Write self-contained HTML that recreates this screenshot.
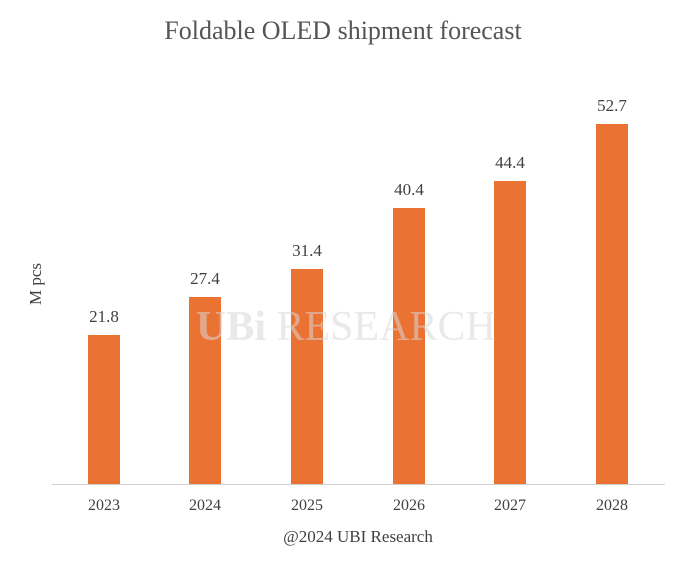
<!DOCTYPE html><html><head><style>
body{margin:0;width:686px;height:573px;background:#fff;overflow:hidden;font-family:"Liberation Serif",serif;color:#404040}
.a{position:absolute}
.bar{position:absolute;width:32px;background:#EA7232}
.v{position:absolute;width:80px;text-align:center;font-size:17px}
.y{position:absolute;width:80px;text-align:center;font-size:16px;top:497px}
</style></head><body>
<div class="a" style="left:0;width:686px;top:16px;text-align:center;font-size:26px;color:#555">Foldable OLED shipment forecast</div>
<div class="a" style="left:26px;top:305px;font-size:17px;transform:rotate(-90deg);transform-origin:left top;white-space:nowrap">M pcs</div>
<div class="a" style="left:52px;top:484px;width:613px;height:1px;background:#d0d0d0"></div>
<div class="bar" style="left:88px;top:335px;height:149px"></div>
<div class="bar" style="left:189px;top:297px;height:187px"></div>
<div class="bar" style="left:291px;top:269px;height:215px"></div>
<div class="bar" style="left:393px;top:208px;height:276px"></div>
<div class="bar" style="left:494px;top:181px;height:303px"></div>
<div class="bar" style="left:596px;top:124px;height:360px"></div>
<div class="a" style="left:196px;top:303px;font-size:42px;color:rgba(215,215,215,0.55);font-weight:bold;z-index:2">UBi <span style="font-weight:normal">RESEARCH</span></div>
<div class="v" style="left:64px;top:307px">21.8</div>
<div class="v" style="left:165px;top:269px">27.4</div>
<div class="v" style="left:267px;top:241px">31.4</div>
<div class="v" style="left:369px;top:180px">40.4</div>
<div class="v" style="left:470px;top:153px">44.4</div>
<div class="v" style="left:572px;top:96px">52.7</div>
<div class="y" style="left:64px">2023</div>
<div class="y" style="left:165px">2024</div>
<div class="y" style="left:267px">2025</div>
<div class="y" style="left:369px">2026</div>
<div class="y" style="left:470px">2027</div>
<div class="y" style="left:572px">2028</div>
<div class="a" style="left:0;width:716px;top:527px;text-align:center;font-size:17px">@2024 UBI Research</div>
</body></html>
